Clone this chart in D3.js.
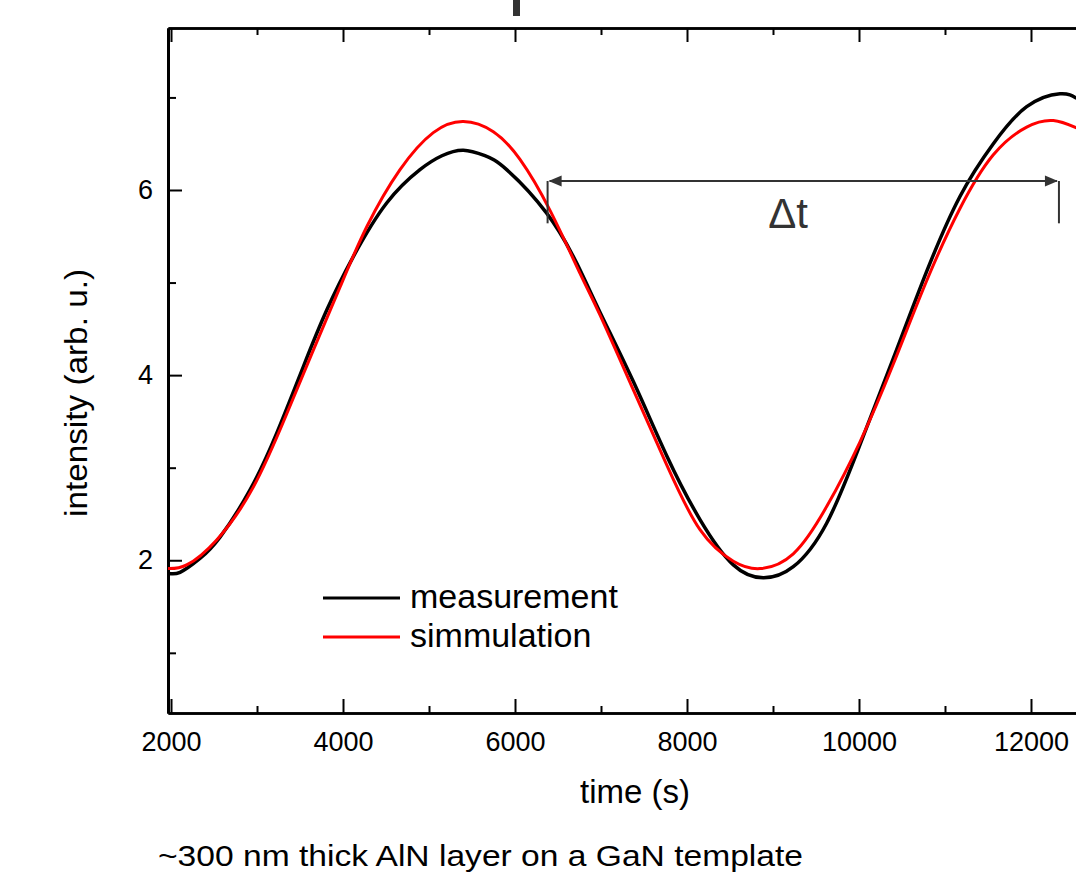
<!DOCTYPE html>
<html>
<head>
<meta charset="utf-8">
<script src="https://cdn.jsdelivr.net/npm/d3@7"></script>
<style>
  html, body { margin: 0; padding: 0; background: #fff; overflow: hidden; }
  svg { display: block; font-family: "Liberation Sans", Arial, sans-serif; }
  .axis path, .axis line { stroke: #000; }
</style>
</head>
<body>
<svg id="chart" width="1076" height="873"></svg>
<script>
"use strict";

// time (s) / intensity (arb. u.)
var measTime = [1965, 2105, 2337, 2570, 2919, 3228, 3538, 3810, 4120, 4508, 4895, 5150, 5399, 5650, 5903,
  6368, 6717, 6988, 7376, 7764, 8151, 8539, 8887, 9236, 9624, 10012, 10399, 10787, 11174, 11562, 11950, 12337, 12530];
var measValues = [1.86, 1.87, 2.02, 2.25, 2.76, 3.37, 4.09, 4.70, 5.28, 5.86, 6.22, 6.37, 6.43, 6.37, 6.22,
  5.75, 5.21, 4.68, 3.93, 3.13, 2.44, 1.95, 1.81, 1.93, 2.40, 3.25, 4.18, 5.12, 5.93, 6.50, 6.90, 7.04, 6.99];

var simTime = [1965, 2182, 2531, 2957, 3345, 3655, 3965, 4275, 4663, 5050, 5399, 5748, 6058, 6407, 6756,
  6988, 7376, 7764, 8151, 8539, 8849, 9236, 9624, 10012, 10399, 10787, 11174, 11562, 11950, 12260, 12530];
var simValues = [1.91, 1.95, 2.22, 2.79, 3.58, 4.27, 4.95, 5.60, 6.22, 6.62, 6.74, 6.63, 6.33, 5.78, 5.10,
  4.65, 3.84, 3.03, 2.33, 1.99, 1.91, 2.07, 2.58, 3.28, 4.12, 5.02, 5.80, 6.38, 6.68, 6.75, 6.67];

var xMajorTicks = [2000, 4000, 6000, 8000, 10000, 12000];
var xMinorTicks = [3000, 5000, 7000, 9000, 11000];
var yMajorTicks = [2, 4, 6];
var yMinorTicks = [1, 3, 5, 7];

var seriesNames = ["measurement", "simmulation"];
var seriesColors = ["#000000", "#ff0000"];

// delta t annotation, in data units
var dtStart = 6379;
var dtEnd = 12325;
var dtLevel = 6.097;
var dtBarBottom = 5.64;

var LEFT = 168, RIGHT = 1077, TOP = 28, BOTTOM = 713;

var svg = d3.select("#chart");

var x = d3.scaleLinear().domain([1965, 12535]).range([LEFT, RIGHT]);
var y = d3.scaleLinear().domain([0.35, 7.75]).range([BOTTOM, TOP]);

svg.append("defs").append("clipPath").attr("id", "plot-clip")
  .append("rect")
  .attr("x", LEFT).attr("y", TOP)
  .attr("width", RIGHT - LEFT).attr("height", BOTTOM - TOP);

// bit of the panel above, cut off
svg.append("rect")
  .attr("x", 513).attr("y", 0).attr("width", 7).attr("height", 16)
  .attr("fill", "#333");

function styleAxis(g, width) {
  g.attr("class", "axis");
  g.selectAll("path").attr("stroke-width", width || 2.5);
  g.selectAll("line").attr("stroke-width", 2);
  g.selectAll("text").attr("fill", "#000").attr("font-size", "27px");
}

// bottom axis, ticks point inwards
svg.append("g")
  .attr("transform", "translate(0," + BOTTOM + ")")
  .call(d3.axisBottom(x).tickValues(xMajorTicks).tickSizeInner(-14).tickSizeOuter(0).tickPadding(19)
    .tickFormat(d3.format("d")))
  .call(styleAxis);
svg.append("g")
  .attr("transform", "translate(0," + BOTTOM + ")")
  .call(d3.axisBottom(x).tickValues(xMinorTicks).tickSizeInner(-7).tickSizeOuter(0).tickFormat(""))
  .call(styleAxis);

// top axis
svg.append("g")
  .attr("transform", "translate(0," + TOP + ")")
  .call(d3.axisBottom(x).tickValues(xMajorTicks).tickSizeInner(14).tickSizeOuter(0).tickFormat(""))
  .call(styleAxis);
svg.append("g")
  .attr("transform", "translate(0," + TOP + ")")
  .call(d3.axisBottom(x).tickValues(xMinorTicks).tickSizeInner(7).tickSizeOuter(0).tickFormat(""))
  .call(styleAxis);

// left axis
svg.append("g")
  .attr("transform", "translate(" + LEFT + ",0)")
  .call(d3.axisLeft(y).tickValues(yMajorTicks).tickSizeInner(-14).tickSizeOuter(0).tickPadding(15))
  .call(styleAxis, 3);
svg.append("g")
  .attr("transform", "translate(" + LEFT + ",0)")
  .call(d3.axisLeft(y).tickValues(yMinorTicks).tickSizeInner(-8).tickSizeOuter(0).tickFormat(""))
  .call(styleAxis, 3);

// curves
var plot = svg.append("g").attr("clip-path", "url(#plot-clip)");
var series = [
  { name: seriesNames[0], time: measTime, values: measValues, color: seriesColors[0], width: 3.5 },
  { name: seriesNames[1], time: simTime, values: simValues, color: seriesColors[1], width: 3 }
];

var lineGen = d3.line()
  .x(function (d) { return x(d[0]); })
  .y(function (d) { return y(d[1]); })
  .curve(d3.curveNatural);

plot.selectAll("path.series")
  .data(series)
  .enter()
  .append("path")
  .attr("class", "series")
  .attr("fill", "none")
  .attr("stroke", function (s) { return s.color; })
  .attr("stroke-width", function (s) { return s.width; })
  .attr("stroke-linejoin", "round")
  .attr("d", function (s) { return lineGen(d3.zip(s.time, s.values)); });

// delta t annotation
var ann = svg.append("g").attr("stroke", "#333").attr("fill", "#333");
ann.append("line")
  .attr("x1", x(dtStart) + 2).attr("x2", x(dtEnd) - 2)
  .attr("y1", y(dtLevel)).attr("y2", y(dtLevel))
  .attr("stroke-width", 2);
[[dtStart, 1], [dtEnd, -1]].forEach(function (a) {
  var px = x(a[0]) + a[1] * 1, py = y(dtLevel);
  ann.append("path")
    .attr("stroke", "none")
    .attr("d", "M" + px + "," + py + "L" + (px + a[1] * 13) + "," + (py - 5.5) + "L" + (px + a[1] * 13) + "," + (py + 5.5) + "Z");
  ann.append("line")
    .attr("x1", x(a[0])).attr("x2", x(a[0]))
    .attr("y1", py).attr("y2", y(dtBarBottom))
    .attr("stroke-width", 2);
});
ann.append("text")
  .attr("x", 788).attr("y", 228)
  .attr("text-anchor", "middle")
  .attr("stroke", "none")
  .attr("font-size", "42px")
  .text("\u0394t");

// legend
var legend = svg.append("g").attr("transform", "translate(323,598)");
legend.selectAll("g")
  .data(series)
  .enter()
  .append("g")
  .attr("transform", function (d, i) { return "translate(0," + (i * 39) + ")"; })
  .each(function (s) {
    var g = d3.select(this);
    g.append("line").attr("x1", 0).attr("x2", 77).attr("y1", 0).attr("y2", 0)
      .attr("stroke", s.color).attr("stroke-width", 3);
    g.append("text").attr("x", 87).attr("y", 10)
      .attr("font-size", "34px").attr("fill", "#000")
      .text(s.name);
  });

// axis titles
svg.append("text")
  .attr("x", 635).attr("y", 803)
  .attr("text-anchor", "middle")
  .attr("font-size", "33px")
  .text("time (s)");

svg.append("text")
  .attr("transform", "translate(87,393) rotate(-90)")
  .attr("text-anchor", "middle")
  .attr("font-size", "31px")
  .attr("textLength", 248)
  .attr("lengthAdjust", "spacingAndGlyphs")
  .text("intensity (arb. u.)");

svg.append("text")
  .attr("x", 158).attr("y", 866)
  .attr("font-size", "30px")
  .attr("textLength", 645)
  .attr("lengthAdjust", "spacingAndGlyphs")
  .text("~300 nm thick AlN layer on a GaN template");
</script>
</body>
</html>
